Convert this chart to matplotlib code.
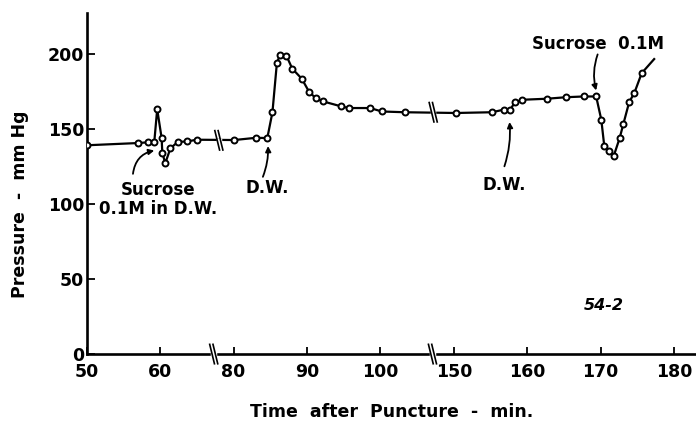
import numpy as np
import matplotlib
matplotlib.use("Agg")
import matplotlib.pyplot as plt

plt.rcParams["font.family"] = ["DejaVu Sans"]
plt.rcParams["font.weight"] = "bold"

# ---- data: time after puncture (min) vs pressure (mm Hg) ----
time_min = [50, 57.0, 58.4, 59.2, 59.6, 60.2, 60.3, 60.7, 61.4, 62.4, 63.7, 65.0,
            80.1, 83.1, 84.6, 85.3, 85.9, 86.3, 87.2, 88.0, 89.3, 90.3, 91.2, 92.2,
            94.6, 95.7, 98.6, 100.2, 103.3,
            150.3, 155.2, 156.8, 157.7, 158.3, 159.3, 162.7, 165.3, 167.7, 169.4,
            170.1, 170.5, 171.1, 171.8, 172.6, 173.1, 173.9, 174.6, 175.6]
pressure = [139, 140.5, 141, 141, 163, 144, 134, 127, 137, 141.2, 141.6, 142.7,
            142.5, 144, 143.8, 161, 193.5, 199, 198.7, 190, 183.3, 174.5, 170.4, 168.2,
            165, 163.8, 163.8, 161.5, 161,
            160.5, 161, 162.7, 162.7, 167.5, 169.3, 170, 171, 171.5, 171.5,
            156, 138.7, 134.9, 132, 143.8, 153.1, 167.8, 173.8, 187]
# line continues beyond last measured point (no marker)
tail_time = [177.3]
tail_pressure = [196.4]

xtick_vals = [50, 60, 80, 90, 100, 150, 160, 170, 180]
ytick_vals = [0, 50, 100, 150, 200]


def to_u(t):
    # broken time axis: 50-70 | 80-100 | 150-180
    t = np.asarray(t, dtype=float)
    return np.where(t < 70, t - 50, np.where(t < 120, t - 60, t - 100))


fig = plt.figure(figsize=(6.96, 4.23), dpi=100)
ax = fig.add_axes([0.1246, 0.163, 0.8754, 0.806])

u = to_u(time_min)
ax.plot(np.r_[u, to_u(tail_time)], pressure + tail_pressure, color="black", lw=1.6,
        solid_joinstyle="round", zorder=2)
ax.plot(u, pressure, ls="none", marker="o", ms=4.3, mfc="white", mec="black",
        mew=1.4, zorder=3)

ax.set_xlim(0, 83)
ax.set_ylim(0, 227)

for s in ["top", "right"]:
    ax.spines[s].set_visible(False)
for s in ["left", "bottom"]:
    ax.spines[s].set_linewidth(1.9)

ax.set_xticks(to_u(xtick_vals))
ax.set_xticklabels([str(v) for v in xtick_vals])
ax.set_yticks(ytick_vals)
ax.tick_params(axis="x", direction="in", length=5, width=1.3, pad=6.5, labelsize=12.5)
ax.tick_params(axis="y", direction="in", length=6, width=1.3, pad=2, labelsize=12.5)
for lab in ax.get_xticklabels() + ax.get_yticklabels():
    lab.set_fontweight("bold")

ax.set_xlabel("Time  after  Puncture  -  min.", fontsize=12.5, fontweight="bold",
              labelpad=16)
ax.set_ylabel("Pressure  -  mm Hg", fontsize=12.5, fontweight="bold")
ax.yaxis.set_label_coords(-0.095, 0.44)


# axis breaks "//" on the x-axis and on the data line
def brk(x, y, dx=0.35, dy=7.0, gap=0.45):
    for off in (-gap / 2, gap / 2):
        ax.plot([x + off - dx, x + off + dx], [y + dy, y - dy], color="black", lw=1.2,
                clip_on=False, zorder=4, solid_capstyle="butt")
    ax.plot([x - gap / 2 + 0.05, x + gap / 2 - 0.05], [y, y], color="white", lw=2.5,
            zorder=3.5, clip_on=False)


for xb in (17.3, 47.1):
    brk(xb, 0)
brk(18.0, 142.3)
brk(47.2, 161.0)

# annotations
arw = dict(arrowstyle="-|>", color="black", lw=1.3, mutation_scale=8,
           shrinkA=0, shrinkB=0)
ax.annotate("", xy=(9.2, 135.5), xytext=(6.3, 120),
            arrowprops=dict(arw, connectionstyle="arc3,rad=-0.35"))
ax.text(9.7, 103, "Sucrose\n0.1M in D.W.", ha="center", va="center", fontsize=12,
        fontweight="bold", linespacing=1.05)

ax.annotate("", xy=(24.7, 138.5), xytext=(24.0, 118),
            arrowprops=dict(arw, connectionstyle="arc3,rad=0.1"))
ax.text(24.6, 110.5, "D.W.", ha="center", va="center", fontsize=12, fontweight="bold")

ax.annotate("", xy=(57.6, 154.5), xytext=(56.9, 125),
            arrowprops=dict(arw, connectionstyle="arc3,rad=0.1"))
ax.text(56.9, 112.5, "D.W.", ha="center", va="center", fontsize=12, fontweight="bold")

ax.annotate("", xy=(69.4, 175.5), xytext=(69.6, 199.5),
            arrowprops=dict(arw, connectionstyle="arc3,rad=0.15"))
ax.text(69.7, 206.5, "Sucrose  0.1M", ha="center", va="center", fontsize=12,
        fontweight="bold")

ax.text(70.5, 32, "54-2", ha="center", va="center", fontsize=11.5,
        fontweight="bold", fontstyle="italic")

fig.savefig("out.png", dpi=100)
